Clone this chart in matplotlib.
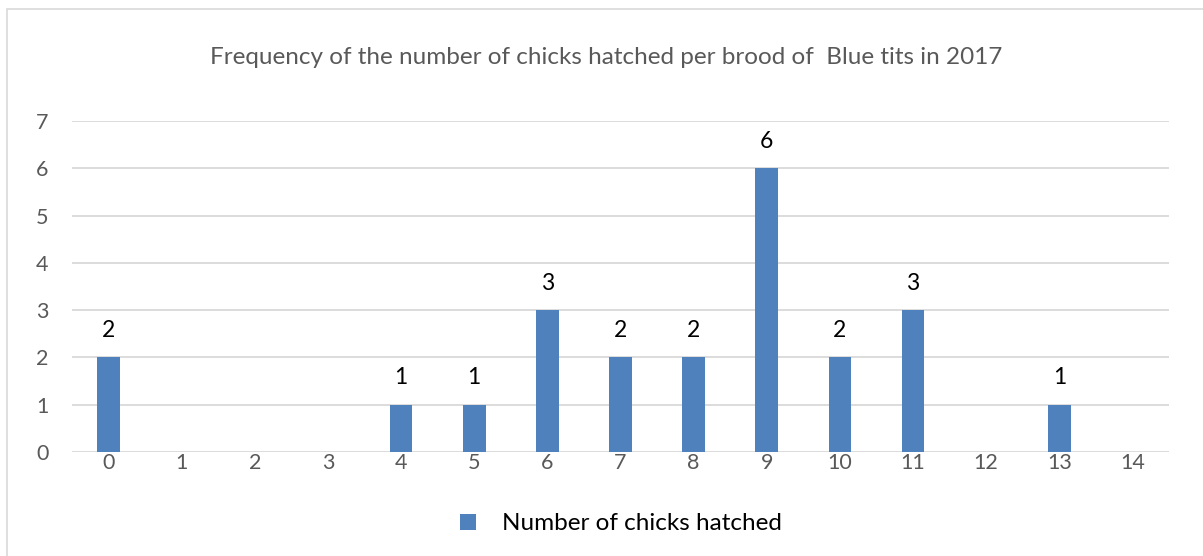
import matplotlib
matplotlib.use("Agg")
import matplotlib.pyplot as plt
from matplotlib.patches import Patch, Rectangle

categories = [str(i) for i in range(15)]
counts = [2, 0, 0, 0, 1, 1, 3, 2, 2, 6, 2, 3, 0, 1, 0]
series_name = "Number of chicks hatched"
title = "Frequency of the number of chicks hatched per brood of  Blue tits in 2017"
y_ticks = list(range(0, 8))

plt.rcParams["font.family"] = ["Lato", "DejaVu Sans"]

W, H = 1203, 556
fig = plt.figure(figsize=(W / 100, H / 100), dpi=100)
fig.patch.set_facecolor("white")

# chart frame (only top/left edges fall inside the canvas)
fig.patches.append(Rectangle((7 / W, -0.1), 1.2, (H - 9) / H + 0.1,
                             transform=fig.transFigure, fill=False,
                             edgecolor="#d9d9d9", linewidth=1.2))

ax = fig.add_axes([72 / W, (H - 452) / H, (1169 - 72) / W, (452 - 121) / H])
bar_color = "#4F81BD"
x = list(range(len(categories)))
bars = ax.bar(x, counts, width=0.31, color=bar_color, zorder=3)

for xi, v in zip(x, counts):
    if v > 0:
        ax.text(xi, v + 0.57, str(v), ha="center", va="center",
                fontsize=16.5, color="black")

ax.set_xlim(-0.5, len(categories) - 0.5)
ax.set_ylim(0, 7)
ax.set_yticks(y_ticks)
ax.set_xticks(x)
ax.set_xticklabels(categories)
ax.grid(axis="y", color="#d9d9d9", linewidth=1.3, zorder=0)
ax.tick_params(axis="both", length=0, labelsize=15.5, colors="#595959")
ax.tick_params(axis="x", pad=1)
ax.tick_params(axis="y", pad=17)
for s in ax.spines.values():
    s.set_visible(False)

fig.text(606 / W, (H - 58) / H, title, ha="center", va="center",
         fontsize=17.5, color="#595959")

fig.legend(handles=[Patch(facecolor=bar_color, label=series_name)],
           loc="center", bbox_to_anchor=(621 / W, (H - 524) / H),
           frameon=False, fontsize=17.5, handlelength=0.65, handleheight=0.65,
           handletextpad=1.1)

fig.savefig("out.png", dpi=100)
